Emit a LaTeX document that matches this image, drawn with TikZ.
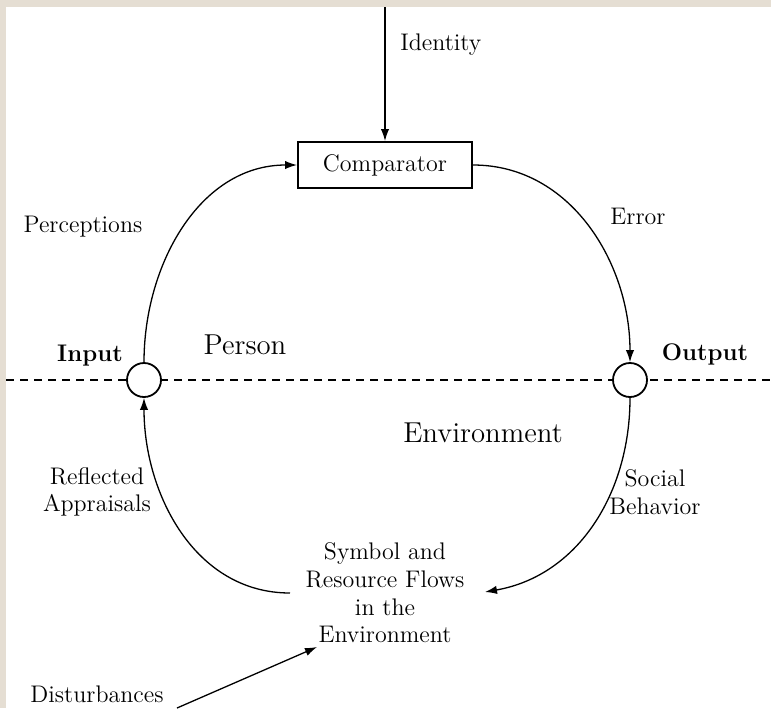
\documentclass[tikz,border=0pt]{standalone}
\usetikzlibrary{arrows.meta, positioning}
\definecolor{paper}{RGB}{229,222,211}

\tikzset{
  lbl/.style={font=\fontsize{12}{13.8}\selectfont, inner sep=0pt},
  boldlbl/.style={font=\fontsize{12}{13.8}\selectfont\bfseries, inner sep=0pt},
  biglbl/.style={font=\fontsize{14.4}{17}\selectfont, inner sep=0pt},
  junction/.style={circle, draw, line width=0.9pt, fill=white, minimum size=17pt, inner sep=0pt},
  flow/.style={line width=0.65pt, -{Latex[length=6pt,width=4.2pt]}},
}

\begin{document}
\begin{tikzpicture}[x=0.5pt,y=-0.5pt]
            \fill[paper] (0,0) rectangle (771,708);
            \fill[white] (6,7) rectangle (771,708);
            \useasboundingbox (0,0) rectangle (771,708);

            % person / environment border
            \draw[dash pattern=on 4pt off 3pt, line width=0.7pt] (6,380) -- (771,380);

            \node[draw, line width=1pt, minimum width=87pt, minimum height=23pt, lbl] (comp) at (385,165) {Comparator};
            \node[junction] (in) at (144,380) {};
            \node[junction] (out) at (630,380) {};
            \node[lbl, align=center] (flows) at (385,593) {Symbol and\\Resource Flows\\in the\\Environment};

            \node[lbl, anchor=west] (ident) at (400,45) {Identity};
            \node[lbl] (perc) at (83,227) {Perceptions};
            \node[lbl, anchor=west] (err) at (610,216) {Error};
            \node[boldlbl] (inlbl) at (90,356) {Input};
            \node[boldlbl] (outlbl) at (705,354) {Output};
            \node[biglbl] (person) at (245,345) {Person};
            \node[biglbl] (env) at (483,433) {Environment};
            \node[lbl, align=center] (refl) at (97,492) {Reflected\\Appraisals};
            \node[lbl, align=center] (soc) at (655,492) {Social\\Behavior};
            \node[lbl] (dist) at (97,694) {Disturbances};

            \coordinate (top) at (385,7);
            \coordinate (lend) at (290,593);
            \coordinate (rtip) at (485,592);
            \coordinate (dstart) at (177,708);
            \coordinate (dtip) at (317,647);

            \draw[flow] (top) -- (comp);
            \draw[flow] (in.north) to[out=90,in=180] (comp.west);
            \draw[flow] (comp.east) to[out=0,in=90] (out.north);
            \draw[flow] (out.south) to[out=270,in=10] (rtip);
            \draw[flow] (lend) to[out=180,in=270] (in.south);
            \draw[flow] (dstart) -- (dtip);
        \end{tikzpicture}
\end{document}
